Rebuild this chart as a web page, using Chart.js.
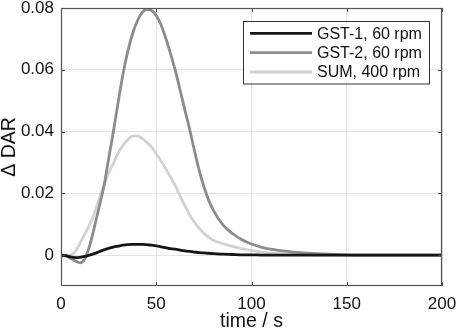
<!DOCTYPE html>
<html>
<head>
<meta charset="utf-8">
<script src="https://cdn.jsdelivr.net/npm/chart.js@4/dist/chart.umd.min.js"></script>
<style>
html,body{margin:0;padding:0;background:#fff;}
#c{display:block;}
</style>
</head>
<body>
<canvas id="c" width="457" height="331"></canvas>
<script>
// ---- data ----
const time = [0,2.5,5,7.5,10,12.5,15,17.5,20,22.5,25,27.5,30,32.5,35,37.5,40,42.5,45,47.5,50,52.5,55,57.5,60,62.5,65,67.5,70,72.5,75,77.5,80,85,90,95,100,105,110,120,130,140,150,160,170,180,190,200];
const gst1 = [0,-0.0002,-0.0006,-0.0008,-0.0007,-0.0004,0.0000,0.0005,0.0011,0.0017,0.0022,0.0026,0.0029,0.0032,0.0034,0.0035,0.0035,0.0035,0.0034,0.0032,0.0030,0.0027,0.0024,0.0021,0.0019,0.0016,0.0014,0.0012,0.0010,0.0008,0.0007,0.0006,0.0005,0.0003,0.0002,0.0001,0.0001,0,0,0,0,0,0,0,0,0,0,0];
const gst2 = [0,-0.0003,-0.0010,-0.0019,-0.0025,-0.0012,0.0030,0.0090,0.0155,0.0222,0.0312,0.0400,0.0495,0.0585,0.0658,0.0715,0.0757,0.0785,0.0796,0.0792,0.0776,0.0746,0.0702,0.0652,0.0598,0.0535,0.0470,0.0408,0.0340,0.0275,0.0222,0.0178,0.0145,0.0098,0.0070,0.0050,0.0036,0.0026,0.0019,0.0011,0.0006,0.0003,0.0001,0,0,0,0,0];
const sum400 = [0,0,0.0001,0.0012,0.0038,0.0068,0.0098,0.0135,0.0182,0.0225,0.0265,0.0297,0.0330,0.0355,0.0373,0.0385,0.0386,0.0378,0.0365,0.0350,0.0328,0.0305,0.0280,0.0252,0.0225,0.0192,0.0160,0.0131,0.0107,0.0087,0.0071,0.0058,0.0048,0.0037,0.0028,0.0021,0.0015,0.0010,0.0007,0.0003,0.0001,0,0,0,0,0,0,0];
const seriesLabels = ['GST-1, 60 rpm','GST-2, 60 rpm','SUM, 400 rpm'];
const xTicks = [0,50,100,150,200];
const yTicks = [0,0.02,0.04,0.06,0.08];
const yTickLabels = ['0','0.02','0.04','0.06','0.08'];
const xTitle = 'time / s';
const yTitle = '\u0394 DAR';

const FONT = "'Liberation Sans', Arial, Helvetica, sans-serif";
const colors = ['#161616','#8c8c8c','#d2d2d2'];

function pts(ys){ return time.map((t,i)=>({x:t,y:ys[i]})); }

const boxPlugin = {
  id:'boxTicks',
  afterDraw(chart){
    const ctx = chart.ctx, a = chart.chartArea;
    const xs = chart.scales.x, ys = chart.scales.y;
    ctx.save();
    ctx.strokeStyle = '#4a4a4a';
    ctx.lineWidth = 1;
    ctx.beginPath();
    xTicks.forEach(v=>{
      const px = Math.round(xs.getPixelForValue(v))+0.5;
      ctx.moveTo(px,a.bottom); ctx.lineTo(px,a.bottom-4);
      ctx.moveTo(px,a.top); ctx.lineTo(px,a.top+4);
    });
    yTicks.forEach(v=>{
      const py = Math.round(ys.getPixelForValue(v))+0.5;
      ctx.moveTo(a.left,py); ctx.lineTo(a.left+4,py);
      ctx.moveTo(a.right,py); ctx.lineTo(a.right-4,py);
    });
    ctx.stroke();
    ctx.strokeStyle = '#555555';
    ctx.lineWidth = 1.2;
    ctx.strokeRect(a.left+0.5, a.top+0.5, a.right-a.left-1, a.bottom-a.top-1);
    // legend
    const lx = 243.5, ly = 21.5, lw = 186, lh = 62.5;
    ctx.fillStyle = '#ffffff';
    ctx.fillRect(lx, ly, lw, lh);
    ctx.strokeStyle = '#333333';
    ctx.lineWidth = 1;
    ctx.strokeRect(lx, ly, lw, lh);
    const rows = [33.3, 52.7, 72];
    chart.data.datasets.forEach((ds,i)=>{
      ctx.strokeStyle = ds.borderColor;
      ctx.lineWidth = 2.8;
      ctx.beginPath();
      ctx.moveTo(250, rows[i]); ctx.lineTo(312, rows[i]);
      ctx.stroke();
      ctx.fillStyle = '#111111';
      ctx.font = '16px ' + FONT;
      ctx.textBaseline = 'middle';
      ctx.textAlign = 'left';
      ctx.fillText(ds.label, 317, rows[i]+1);
    });
    ctx.restore();
  }
};

new Chart(document.getElementById('c'), {
  type:'line',
  data:{
    datasets:[
      {label:seriesLabels[0], data:pts(gst1), borderColor:colors[0], borderWidth:2.8, pointRadius:0, cubicInterpolationMode:'monotone', fill:false},
      {label:seriesLabels[1], data:pts(gst2), borderColor:colors[1], borderWidth:2.8, pointRadius:0, cubicInterpolationMode:'monotone', fill:false},
      {label:seriesLabels[2], data:pts(sum400), borderColor:colors[2], borderWidth:2.8, pointRadius:0, cubicInterpolationMode:'monotone', fill:false}
    ]
  },
  options:{
    responsive:false,
    animation:false,
    devicePixelRatio:1,
    layout:{padding:0},
    plugins:{legend:{display:false}, tooltip:{enabled:false}},
    scales:{
      x:{
        type:'linear', min:0, max:200,
        afterBuildTicks:(s)=>{ s.ticks = xTicks.map(v=>({value:v})); },
        afterFit:(s)=>{ s.height = 45; s.paddingLeft = 0; s.paddingRight = 15; },
        grid:{color:'#e4e4e4', drawTicks:false, lineWidth:1},
        border:{display:false},
        ticks:{padding:8, color:'#111', font:{family:FONT,size:17}, maxRotation:0, callback:(v)=>String(v)},
        title:{display:true, text:xTitle, color:'#111', font:{family:FONT,size:19.5,lineHeight:1}, padding:{top:0,bottom:0}}
      },
      y:{
        type:'linear', min:-0.01, max:0.08,
        afterBuildTicks:(s)=>{ s.ticks = yTicks.map(v=>({value:v})); },
        afterFit:(s)=>{ s.width = 61; s.paddingTop = 8; s.paddingBottom = 0; },
        grid:{color:'#e4e4e4', drawTicks:false, lineWidth:1},
        border:{display:false},
        ticks:{padding:7, color:'#111', font:{family:FONT,size:17}, callback:(v)=>{ const i = yTicks.findIndex(t=>Math.abs(t-v)<1e-9); return i>=0 ? yTickLabels[i] : ''; }},
        title:{display:true, text:yTitle, color:'#111', font:{family:FONT,size:19.5,lineHeight:1}, padding:{top:0,bottom:0}}
      }
    }
  },
  plugins:[boxPlugin]
});
</script>
</body>
</html>
